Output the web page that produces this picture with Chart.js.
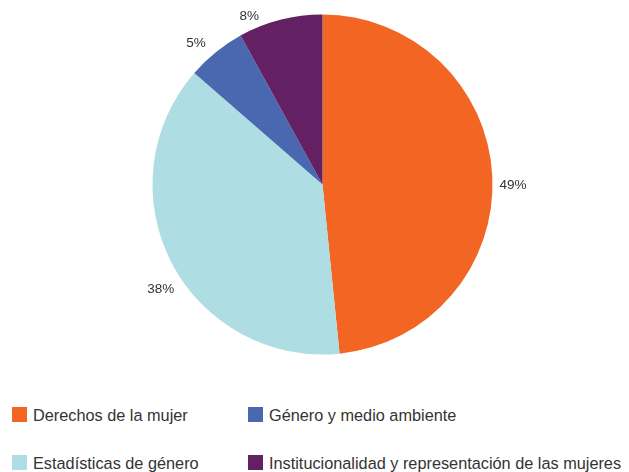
<!DOCTYPE html>
<html>
<head>
<meta charset="utf-8">
<script src="https://cdn.jsdelivr.net/npm/chart.js@4"></script>
<style>
  html, body { margin: 0; padding: 0; background: #fff; }
  body { width: 629px; height: 472px; position: relative; overflow: hidden; font-family: "Liberation Sans", Arial, sans-serif; }
  #wrap { position: absolute; left: 0; top: 0; width: 629px; height: 370px; }
  .leg { position: absolute; font-size: 16.3px; color: #333; white-space: nowrap; line-height: 18px; }
  .leg span.sw { position: absolute; left: -21px; top: 1px; width: 15px; height: 15px; }
</style>
</head>
<body>
<div id="wrap"><canvas id="myChart"></canvas></div>
<div id="legend"></div>
<script>
var categories = ["Derechos de la mujer", "Estadísticas de género", "Género y medio ambiente", "Institucionalidad y representación de las mujeres"];
var values = [48.4, 38.0, 5.6, 8.0];
var valueLabels = ["49%", "38%", "5%", "8%"];
var colors = ["#F26522", "#AEDDE3", "#4A68B0", "#632062"];

// legend: two columns, same order as the original figure
var legendPos = [[33, 406], [33, 454], [269, 406], [269, 454]];
var legend = document.getElementById("legend");
categories.forEach(function (c, i) {
  var d = document.createElement("div");
  d.className = "leg";
  d.style.left = legendPos[i][0] + "px";
  d.style.top = legendPos[i][1] + "px";
  d.innerHTML = '<span class="sw" style="background:' + colors[i] + '"></span>' + c;
  legend.appendChild(d);
});

// percentage labels outside the pie, shifted a little like the original
var angleShift = [3, -5.5, -3, -8.5];
var outsideLabels = {
  id: 'outsideLabels',
  afterDatasetsDraw: function (chart) {
    var ctx = chart.ctx;
    var meta = chart.getDatasetMeta(0);
    ctx.save();
    ctx.font = '13.5px "Liberation Sans", Arial, sans-serif';
    ctx.fillStyle = '#333';
    ctx.textAlign = 'center';
    ctx.textBaseline = 'middle';
    meta.data.forEach(function (arc, i) {
      var p = arc.getProps(['x', 'y', 'startAngle', 'endAngle', 'outerRadius'], true);
      var mid = (p.startAngle + p.endAngle) / 2 + angleShift[i] * Math.PI / 180;
      var dx = Math.cos(mid), dy = Math.sin(mid);
      var w = ctx.measureText(valueLabels[i]).width;
      var r = p.outerRadius + 7 + (w / 2) * Math.abs(dx) + 8 * Math.abs(dy);
      var x = p.x + r * dx;
      var y = Math.max(16, p.y + r * dy);
      ctx.fillText(valueLabels[i], x, y);
    });
    ctx.restore();
  }
};

var ctx = document.getElementById("myChart");
var myChart = new Chart(ctx, {
  type: 'pie',
  data: {
    labels: categories,
    datasets: [{
      data: values,
      backgroundColor: colors,
      borderWidth: 0
    }]
  },
  options: {
    responsive: true,
    maintainAspectRatio: false,
    animation: false,
    layout: { padding: { left: 16, top: 14.5, bottom: 15.5, right: 0 } },
    plugins: {
      legend: { display: false },
      tooltip: { enabled: false }
    }
  },
  plugins: [outsideLabels]
});
</script>
</body>
</html>
